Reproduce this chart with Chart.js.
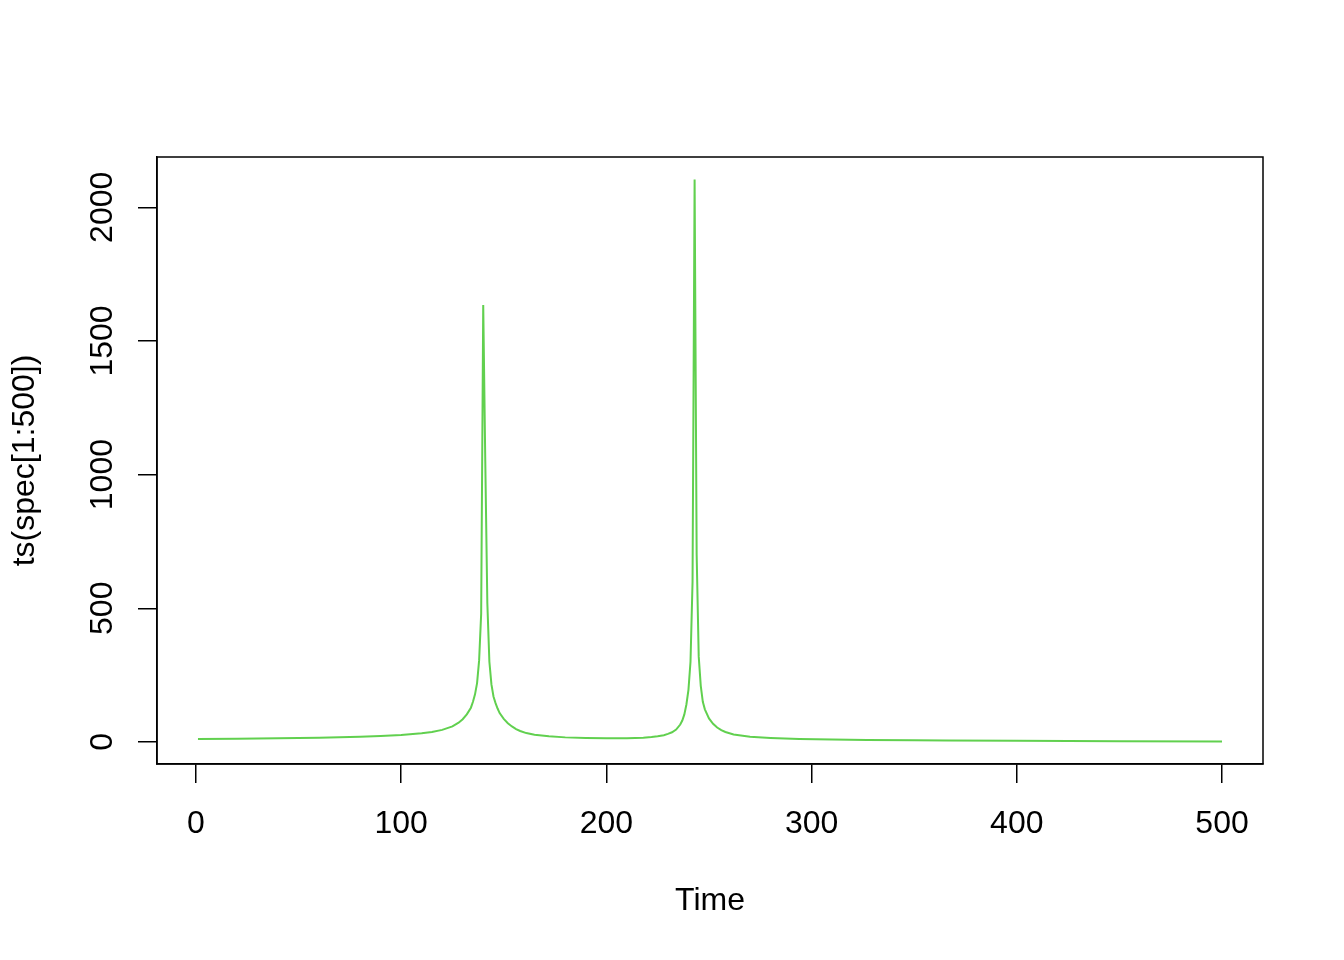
<!DOCTYPE html>
<html>
<head>
<meta charset="utf-8">
<script src="https://cdn.jsdelivr.net/npm/chart.js@4"></script>
<style>
    html, body { margin: 0; padding: 0; background: #fff; }
</style>
</head>
<body>
<canvas id="specChart" width="1344" height="960"></canvas>
<script>
// Values (time index, spectrum value)
const specTime = [
    1, 20, 40, 60, 80, 90, 100, 110, 115, 120, 125, 128, 130, 132, 134, 135,
    136, 137, 138, 139, 140, 141, 142, 143, 144, 145, 146, 147, 148, 150, 152,
    154, 156, 158, 161, 165, 172, 180, 190, 200, 210, 218, 222, 225, 228, 230,
    232, 234, 236, 237, 238, 239, 240, 241, 242, 243, 244, 245, 246, 247, 248,
    250, 252, 254, 256, 258, 262, 270, 280, 294, 310, 327, 350, 366, 400, 450, 500
];
const specValue = [
    11, 12, 14, 16, 19, 22, 26, 32, 37, 45, 58, 72, 85, 103, 128, 150,
    178, 220, 305, 480, 1634, 1050, 520, 300, 215, 170, 145, 125, 108, 86, 70,
    58, 48, 41, 33, 27, 21, 17, 15, 14, 14, 16, 18, 21, 25, 30,
    36, 46, 65, 80, 103, 140, 195, 300, 600, 2104, 700, 320, 210, 150, 122,
    88, 68, 54, 44, 37, 28, 19, 15, 11, 9, 7.5, 6, 5, 4, 2.5, 1.5
];
const xTicks = [0, 100, 200, 300, 400, 500];
const yTicks = [0, 500, 1000, 1500, 2000];

const xTitle = 'Time';
const yTitle = 'ts(spec[1:500])';

const fontFamily = '"Liberation Sans", Arial, Helvetica, sans-serif';

function initChart() {
    const points = specTime.map((t, i) => ({ x: t, y: specValue[i] }));

    // R-style range: data range extended by 4% on each side
    const xSpan = specTime[specTime.length - 1] - specTime[0];
    const yMin = Math.min(...specValue);
    const yMax = Math.max(...specValue);
    const ySpan = yMax - yMin;

    // box around the plot region
    const boxPlugin = {
        id: 'box',
        afterDraw(chart) {
            const { ctx, chartArea: a } = chart;
            ctx.save();
            ctx.strokeStyle = '#000';
            ctx.lineWidth = 1.5;
            ctx.strokeRect(a.left, a.top, a.right - a.left, a.bottom - a.top);
            ctx.restore();
        }
    };

    // vertical y tick labels, placed through the y scale
    const yLabelPlugin = {
        id: 'yLabels',
        afterDraw(chart) {
            const { ctx } = chart;
            const yScale = chart.scales.y;
            ctx.save();
            ctx.fillStyle = '#000';
            ctx.font = '32px ' + fontFamily;
            ctx.textAlign = 'center';
            ctx.textBaseline = 'alphabetic';
            yTicks.forEach(v => {
                const py = yScale.getPixelForValue(v);
                ctx.save();
                ctx.translate(112, py);
                ctx.rotate(-Math.PI / 2);
                ctx.fillText(String(v), 0, 0);
                ctx.restore();
            });
            ctx.restore();
        }
    };

    new Chart(document.getElementById('specChart'), {
        type: 'line',
        data: {
            datasets: [{
                data: points,
                borderColor: '#61D04F',
                borderWidth: 2,
                pointRadius: 0,
                tension: 0,
                fill: false
            }]
        },
        options: {
            responsive: false,
            animation: false,
            layout: { padding: { top: 157, right: 81, left: 0, bottom: 0 } },
            plugins: { legend: { display: false }, tooltip: { enabled: false } },
            scales: {
                x: {
                    type: 'linear',
                    min: specTime[0] - 0.04 * xSpan,
                    max: specTime[specTime.length - 1] + 0.04 * xSpan,
                    afterBuildTicks: s => { s.ticks = xTicks.map(v => ({ value: v })); },
                    afterFit: s => { s.height = 196; },
                    grid: {
                        drawOnChartArea: false,
                        drawTicks: true,
                        tickLength: 19,
                        tickColor: '#000',
                        lineWidth: 1.5
                    },
                    border: { display: true, color: '#000', width: 1.5 },
                    ticks: {
                        color: '#000',
                        padding: 22,
                        maxRotation: 0,
                        autoSkip: false,
                        font: { family: fontFamily, size: 32 }
                    },
                    title: {
                        display: true,
                        text: xTitle,
                        color: '#000',
                        font: { family: fontFamily, size: 32 },
                        padding: { top: 0, bottom: 40 }
                    }
                },
                y: {
                    type: 'linear',
                    min: yMin - 0.04 * ySpan,
                    max: yMax + 0.04 * ySpan,
                    afterBuildTicks: s => { s.ticks = yTicks.map(v => ({ value: v })); },
                    afterFit: s => { s.width = 157; },
                    grid: {
                        drawOnChartArea: false,
                        drawTicks: true,
                        tickLength: 19,
                        tickColor: '#000',
                        lineWidth: 1.5
                    },
                    border: { display: true, color: '#000', width: 1.5 },
                    ticks: { display: false },
                    title: {
                        display: true,
                        text: yTitle,
                        color: '#000',
                        font: { family: fontFamily, size: 32 },
                        padding: { top: 6, bottom: 0 }
                    }
                }
            }
        },
        plugins: [boxPlugin, yLabelPlugin]
    });
}

document.addEventListener('DOMContentLoaded', initChart);
</script>
</body>
</html>
